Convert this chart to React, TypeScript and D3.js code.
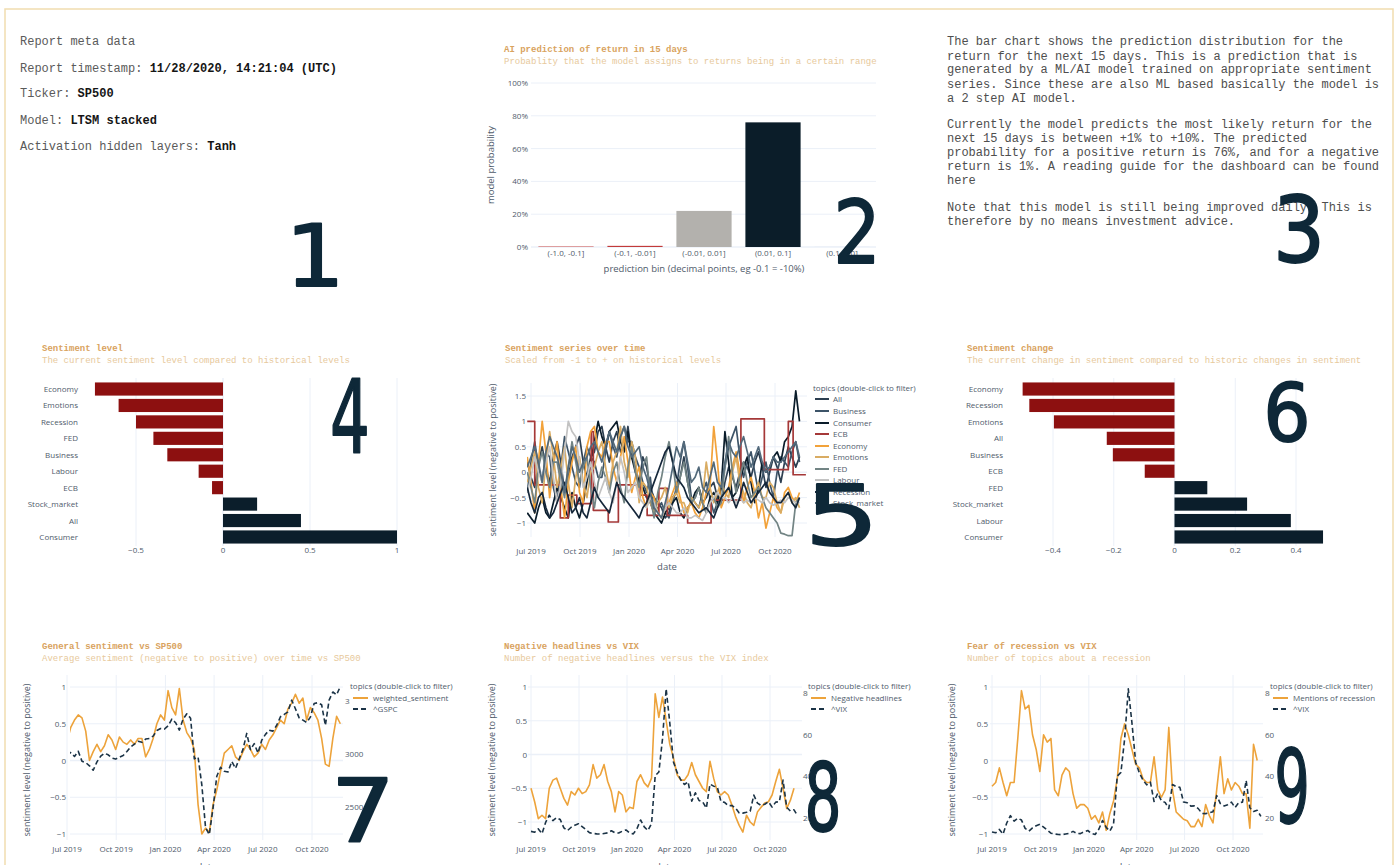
import React from "react";
import * as d3 from "d3";

const W = 1398;
const H = 865;

// ---------- Panel 1: meta data ----------
const metaLabels = ["Report timestamp: ", "Ticker: ", "Model: ", "Activation hidden layers: "];
const metaValues = ["11/28/2020, 14:21:04 (UTC)", "SP500", "LTSM stacked", "Tanh"];

// ---------- Panel 2: prediction bins ----------
const binLabels = ["(-1.0, -0.1]", "(-0.1, -0.01]", "(-0.01, 0.01]", "(0.01, 0.1]", "(0.1, 1.0]"];
const binProbs = [0.005, 0.007, 0.22, 0.76, 0.002];
const binColors = ["#d98c8c", "#c23a3a", "#b3b1ad", "#0b1d29", "#e6edf5"];
const probTicks = [0, 0.2, 0.4, 0.6, 0.8, 1];

// ---------- Panel 3: explanation ----------
const explainParas = [
  [
    "The bar chart shows the prediction distribution for the",
    "return for the next 15 days. This is a prediction that is",
    "generated by a ML/AI model trained on appropriate sentiment",
    "series. Since these are also ML based basically the model is",
    "a 2 step AI model.",
  ],
  [
    "Currently the model predicts the most likely return for the",
    "next 15 days is between +1% to +10%. The predicted",
    "probability for a positive return is 76%, and for a negative",
    "return is 1%. A reading guide for the dashboard can be found",
    "here",
  ],
  [
    "Note that this model is still being improved daily. This is",
    "therefore by no means investment advice.",
  ],
];

// ---------- Panel 4: sentiment level ----------
const levelCats = ["Economy", "Emotions", "Recession", "FED", "Business", "Labour", "ECB", "Stock_market", "All", "Consumer"];
const levelVals = [-0.736, -0.6, -0.5, -0.4, -0.32, -0.14, -0.063, 0.196, 0.448, 1.0];
const levelTicks = [-0.5, 0, 0.5, 1];

// ---------- Panel 6: sentiment change ----------
const changeCats = ["Economy", "Recession", "Emotions", "All", "Business", "ECB", "FED", "Stock_market", "Labour", "Consumer"];
const changeVals = [-0.5, -0.478, -0.397, -0.223, -0.203, -0.098, 0.108, 0.239, 0.383, 0.489];
const changeTicks = [-0.4, -0.2, 0, 0.2, 0.4];

// ---------- Panel 5: sentiment series (weekly from 2019-06-24) ----------
const topicNames = ["All", "Business", "Consumer", "ECB", "Economy", "Emotions", "FED", "Labour", "Recession", "Stock_market"];
const topicColors = ["#2c3e50", "#3d5468", "#0a1c2a", "#a53838", "#f2a23a", "#d9ac63", "#728484", "#c2c2c2", "#15273a", "#52697a"];
const sAll = [0.2,-0.1,-0.3,0.2,0.5,0.1,-0.2,0.3,0.6,0.2,-0.4,-0.1,0.3,0.5,0.7,0.2,-0.1,0.3,0.4,0.8,0.9,0.5,0.2,0.6,0.8,0.4,0.5,0.9,0.3,0.1,-0.2,0.3,0.1,-0.3,-0.5,-0.6,-0.7,-0.9,-0.8,-0.5,-0.4,-0.1,0.3,-0.2,-0.6,-0.5,-0.3,-0.6,-0.5,-0.3,-0.2,-0.5,-0.6,-0.2,0.1,-0.1,-0.3,0.0,0.2,0.1,-0.1,0.2,0.4,0.1,-0.3,0.0,0.3,0.1,-0.2,0.2,0.5,0.3,0.1,0.3];
const sBusiness = [-0.4,0.2,0.6,0.1,-0.2,0.4,0.3,-0.3,-0.6,0.1,0.7,0.4,0.1,-0.2,-0.3,0.2,0.5,0.3,0.2,-0.1,-0.1,0.4,0.8,0.5,0.3,0.7,0.9,0.6,0.6,0.3,0.1,-0.2,-0.4,-0.1,-0.8,-0.7,-0.6,-0.8,-0.9,-0.6,-0.3,0.2,0.6,0.1,-0.5,-0.6,-0.7,-0.4,-0.2,-0.5,-0.8,-0.6,-0.3,0.1,0.5,0.7,0.9,0.3,-0.1,0.2,0.4,0.0,-0.4,-0.1,0.2,-0.2,-0.5,0.0,0.3,0.2,0.1,0.4,0.6,0.2];
const sConsumer = [-0.8,-0.9,-1.0,-0.7,-0.5,-0.8,-0.9,-0.6,-0.3,-0.5,-0.7,-0.9,-0.4,-0.7,-0.9,-0.6,-0.2,0.2,0.6,1.0,0.7,0.5,0.8,0.9,1.0,0.6,0.4,0.8,0.3,0.0,-0.2,-0.3,-0.5,-0.6,-0.8,-0.9,-1.0,-0.8,-0.7,-0.6,-0.5,-0.8,-0.9,-0.7,-0.6,-0.4,-0.3,-0.6,-0.8,-0.5,-0.4,-0.6,-0.3,0.8,0.2,-0.5,-0.4,-0.2,0.1,0.3,-0.2,-0.6,-0.3,0.2,0.0,0.1,0.3,0.4,0.2,0.6,0.7,0.9,1.6,1.0];
const sEconomy = [0.3,-0.2,-0.8,0.2,1.0,0.4,-0.5,0.1,0.6,-0.3,-0.9,-0.2,0.2,0.5,-0.4,-0.6,0.5,0.8,0.9,0.4,0.3,0.6,0.6,0.1,-0.2,0.3,0.7,0.2,-0.4,-0.1,0.1,-0.5,-0.7,-0.4,-0.5,-0.8,-0.9,-0.7,-0.6,-0.4,-0.2,-0.5,-0.8,-0.7,-0.6,-0.8,-0.9,-0.7,-0.4,-0.3,0.9,0.2,-0.7,-0.5,-0.3,0.1,0.4,0.0,-0.6,-0.3,-0.1,-0.4,-0.9,-0.6,-1.1,-0.8,-0.5,-0.7,-0.8,-0.4,-0.3,-0.5,-0.6,-0.4];
const sEmotions = [-0.2,0.1,0.4,-0.3,-0.6,0.2,0.8,0.3,-0.3,0.1,0.5,-0.2,-0.7,-0.1,0.3,-0.2,-0.5,0.0,0.1,0.4,0.6,0.1,-0.3,0.2,0.4,0.9,0.2,-0.1,0.6,0.3,-0.6,-0.2,-0.3,-0.6,-0.8,-0.6,-0.5,-0.3,-0.7,-0.5,-0.4,-0.6,-0.6,-0.8,-0.5,-0.6,-0.7,-0.5,0.2,-0.3,-0.6,-0.4,-0.2,-0.4,-0.5,0.0,0.3,-0.2,-0.4,-0.6,-0.7,-0.4,-0.2,-0.5,-0.5,-0.2,-0.3,-0.6,-0.8,-0.5,-0.4,-0.6,-0.5,-0.7];
const sFED = [0.0,-0.3,-0.6,0.1,0.4,0.0,-0.3,0.2,0.2,-0.2,-0.5,0.1,0.6,0.2,-0.2,0.1,0.3,-0.3,-0.7,-0.2,0.1,-0.1,-0.4,0.0,0.2,-0.3,-0.6,0.1,0.5,0.0,-0.3,0.1,0.3,-0.5,-0.9,-0.4,-0.1,0.3,0.6,0.2,-0.4,-0.1,0.2,-0.2,-0.6,-0.5,-0.3,-0.6,-0.8,-0.6,-0.5,-0.7,-0.6,0.1,0.7,0.0,-0.4,-0.1,0.2,-0.2,-0.5,-0.4,-0.3,-0.5,-0.7,-0.8,-0.9,-1.0,-1.2,-1.22,-1.25,-1.25,-0.6,-0.5];
const sLabour = [-0.4,-0.1,0.3,0.0,-0.2,0.2,0.5,-0.1,-0.6,-0.2,0.4,1.0,0.8,0.7,0.2,-0.3,-0.1,0.2,-0.2,-0.5,-0.3,-0.1,-0.4,-0.6,-0.2,0.3,0.0,-0.4,-0.3,-0.2,-0.5,-0.6,-0.7,-0.5,-0.6,-0.8,-0.9,-0.7,-0.6,-0.7,-0.8,-0.8,-0.7,-0.9,-0.9,-0.85,-0.9,-0.95,-0.8,-0.6,-0.5,-0.4,-0.5,-0.5,-0.6,-0.5,-0.6,-0.5,-0.6,-0.55,-0.6,-0.5,-0.55,-0.6,-0.5,-0.6,-0.65,-0.6,-0.55,-0.6,-0.5,-0.55,-0.6,-0.6];
const sRecession = [-0.3,-0.6,-0.8,-0.5,-0.4,-0.7,-0.9,-0.8,-0.6,-0.4,-0.2,-0.5,-0.8,-0.7,-0.5,-0.8,-0.9,-0.6,-0.3,-0.5,-0.6,-0.7,-0.8,-0.5,-0.2,-0.4,-0.5,-0.6,-0.7,-0.8,-0.9,-0.7,-0.6,-0.4,-0.2,0.0,0.2,0.4,0.5,0.2,-0.1,-0.2,-0.3,-0.5,-0.6,-0.7,-0.8,-0.75,-0.7,-0.8,-0.9,-0.7,-0.5,-0.4,-0.3,-0.5,-0.7,-0.5,-0.2,-0.4,-0.6,-0.5,-0.4,-0.3,-0.2,-0.4,-0.5,-0.6,-0.6,-0.5,-0.4,-0.6,-0.7,-0.5];
const sStock = [0.1,0.3,0.5,0.2,-0.2,0.4,0.7,0.5,0.3,0.0,-0.4,0.1,0.5,0.3,0.0,0.2,0.3,0.5,0.6,0.4,0.2,0.5,0.8,0.6,0.4,0.7,0.9,0.5,0.3,0.4,0.5,0.1,-0.1,-0.4,-0.7,-0.8,-0.9,-0.6,-0.3,0.1,0.5,0.3,0.6,0.2,-0.2,-0.1,0.1,-0.3,-0.4,-0.1,0.2,-0.2,-0.3,0.2,0.6,0.4,0.3,0.5,0.7,0.4,0.1,0.3,0.5,0.2,0.0,0.1,0.3,0.2,0.2,0.3,0.4,0.5,0.6,0.3];
// ECB is a step series: change dates and levels
const ecbSteps: [string, number][] = [
  ["2019-06-24", 1.0], ["2019-07-08", -0.25], ["2019-08-25", -0.9], ["2019-09-09", -0.45],
  ["2019-09-25", -0.62], ["2019-10-22", 0.8], ["2019-10-26", -0.75], ["2019-11-23", -0.98],
  ["2019-12-12", -0.25], ["2020-01-22", -0.45], ["2020-02-04", -0.85], ["2020-02-26", -0.32],
  ["2020-03-13", -0.85], ["2020-04-20", -1.0], ["2020-06-03", -0.55], ["2020-07-29", 1.05],
  ["2020-09-11", 0.05], ["2020-10-26", 1.0], ["2020-11-04", -0.05], ["2020-11-28", -0.05],
];
const seriesValues = [sAll, sBusiness, sConsumer, null, sEconomy, sEmotions, sFED, sLabour, sRecession, sStock];
const seriesTicks = [-1, -0.5, 0, 0.5, 1, 1.5];

// ---------- Panels 7-9 (weekly from 2019-07-01) ----------
const weightedSentiment = [0.25,0.45,0.55,0.62,0.58,0.4,0.0,0.12,0.22,0.12,0.2,0.35,0.28,0.15,0.32,0.25,0.22,0.28,0.22,0.3,0.3,0.05,0.15,0.3,0.5,0.62,0.55,0.95,0.72,0.62,0.98,0.55,0.38,0.3,0.15,-0.6,-1.0,-0.92,-0.98,-0.6,-0.4,-0.15,0.1,0.15,0.2,0.05,0.0,0.12,0.22,0.15,0.05,0.1,0.22,0.15,0.28,0.35,0.45,0.55,0.5,0.7,0.78,0.9,0.78,0.85,0.55,0.72,0.65,0.55,0.3,-0.05,-0.08,0.3,0.6,0.5];
const gspc = [2990,3014,2977,3026,2932,2919,2889,2847,2926,2979,3007,2992,2962,2952,2970,2986,3023,3067,3093,3120,3110,3141,3146,3169,3221,3240,3235,3265,3330,3295,3226,3328,3380,3338,2954,2972,2711,2305,2240,2489,2790,2875,2837,2831,2930,2864,2955,3044,3194,3041,3098,3009,3130,3185,3225,3216,3271,3351,3373,3397,3508,3427,3341,3319,3298,3348,3477,3484,3465,3270,3509,3585,3558,3638];
const negativeHeadlines = [-0.5,-0.7,-0.95,-0.9,-0.95,-0.5,-0.38,-0.35,-0.5,-0.65,-0.75,-0.55,-0.6,-0.5,-0.58,-0.55,-0.45,-0.15,-0.35,-0.3,-0.15,-0.4,-0.55,-0.85,-0.55,-0.6,-0.85,-0.78,-0.8,-0.4,-0.3,-0.42,-0.48,-0.35,0.9,0.55,0.85,0.5,0.15,-0.05,-0.3,-0.38,-0.38,-0.3,-0.12,-0.3,-0.4,-0.5,-0.55,-0.1,-0.35,-0.55,-0.6,-0.55,-0.6,-0.75,-0.92,-1.05,-1.15,-0.9,-1.0,-1.05,-0.85,-0.78,-0.72,-0.7,-0.6,-0.4,-0.22,-0.5,-0.8,-0.68,-0.5];
const recessionMentions = [-0.35,-0.3,-0.1,-0.3,-0.48,-0.3,-0.3,0.3,0.95,0.7,0.75,0.35,0.15,-0.15,0.35,0.25,0.3,-0.4,-0.48,-0.2,-0.1,-0.15,-0.45,-0.65,-0.6,-0.6,-0.65,-0.8,-0.75,-0.85,-0.7,-0.95,-0.72,-0.55,-0.25,0.3,0.5,0.35,0.15,-0.05,-0.1,-0.25,-0.3,-0.3,0.05,-0.4,-0.5,-0.4,0.45,-0.4,-0.7,-0.75,-0.8,-0.82,-0.9,-0.9,-0.8,-0.9,-0.6,-0.75,-0.85,-0.4,0.05,-0.45,-0.25,-0.4,-0.3,-0.35,-0.45,-0.45,-0.92,0.22,0.0];
const vix = [13.3,12.9,14.5,12.2,17.6,21.1,18.5,19.9,19.0,15.0,13.7,15.3,16.3,17.0,15.6,14.2,12.7,12.3,12.1,12.0,12.3,12.6,13.6,12.6,12.5,13.4,14.0,12.6,12.1,14.6,18.8,15.5,13.7,17.1,40.1,41.9,57.8,82.0,65.5,46.8,41.7,38.2,35.9,37.2,27.9,31.9,28.2,27.5,24.5,36.1,35.1,34.7,27.7,27.3,25.7,25.8,24.5,22.2,22.1,22.5,23.0,30.8,26.9,25.8,26.4,27.6,25.0,27.4,27.6,38.0,24.9,23.1,23.7,20.8];
const sentTicks = [-1, -0.5, 0, 0.5, 1];

const quarterDates = ["2019-07-01", "2019-10-01", "2020-01-01", "2020-04-01", "2020-07-01", "2020-10-01"];

// ---------- helpers ----------
const parse = d3.timeParse("%Y-%m-%d");
const QTR = quarterDates.map((s) => parse(s) as Date);
const fmtQ = d3.timeFormat("%b %Y");
const WEEK0 = parse("2019-07-01") as Date;
const SER0 = parse("2019-06-24") as Date;
const weekDate = (i: number) => d3.timeDay.offset(WEEK0, 7 * i);
const serDate = (i: number) => d3.timeDay.offset(SER0, 7 * i);
const fmtNum = (v: number) => (v < 0 ? "\u2212" : "") + d3.format("~g")(Math.abs(v));

const GRID = "#ebf0f8";
const TICK = "#4f5b6b";
const TITLE = "#d9a35e";
const SUB = "#e7c99c";
const ORANGE = "#eda33b";
const NAVY_DASH = "#1b3346";
const SANS = "'Open Sans', 'Noto Sans', sans-serif";
const MONO = "'Liberation Mono', 'DejaVu Sans Mono', monospace";

function PanelTitle({ x, y, title, sub }: { x: number; y: number; title: string; sub: string }) {
  return (
    <g fontFamily={MONO} fontSize={9}>
      <text x={x} y={y} fill={TITLE} fontWeight="bold">{title}</text>
      <text x={x} y={y + 12} fill={SUB}>{sub}</text>
    </g>
  );
}

function Meta() {
  const rows = [45, 72, 97, 124, 150];
  return (
    <g fontFamily={MONO} fontSize={12} style={{ whiteSpace: "pre" }}>
      <text x={20} y={rows[0]} fill="#5a5a5a">Report meta data</text>
      {metaLabels.map((l, i) => (
        <text key={i} x={20} y={rows[i + 1]} fill="#5a5a5a">
          {l}
          <tspan fontWeight="bold" fill="#151515">{metaValues[i]}</tspan>
        </text>
      ))}
    </g>
  );
}

function Explain() {
  const base = [[45, 60, 73, 88, 102], [128, 142, 156, 170, 184], [211, 225]];
  return (
    <g fontFamily={MONO} fontSize={12} fill="#4e4e4e">
      {explainParas.map((p, pi) =>
        p.map((line, li) => (
          <text key={pi + "-" + li} x={947} y={base[pi][li]}>{line}</text>
        ))
      )}
    </g>
  );
}

function PredBar() {
  const x = d3.scaleBand<string>().domain(binLabels).range([531.5, 876.5]).paddingInner(0.2).paddingOuter(0.1);
  const y = d3.scaleLinear().domain([0, 1]).range([247, 83]);
  return (
    <g fontFamily={SANS}>
      <PanelTitle x={504} y={52} title="AI prediction of return in 15 days" sub="Probablity that the model assigns to returns being in a certain range" />
      {probTicks.map((t) => (
        <line key={t} x1={531} x2={876} y1={y(t)} y2={y(t)} stroke={GRID} strokeWidth={t === 0 ? 1.5 : 1} />
      ))}
      {probTicks.map((t) => (
        <text key={"l" + t} x={528} y={y(t) + 3} textAnchor="end" fontSize={8} fill={TICK}>{d3.format(".0%")(t)}</text>
      ))}
      {binLabels.map((b, i) => (
        <rect key={b} x={x(b)} y={y(binProbs[i])} width={x.bandwidth()} height={y(0) - y(binProbs[i])} fill={binColors[i]} />
      ))}
      {binLabels.map((b) => (
        <text key={"t" + b} x={(x(b) as number) + x.bandwidth() / 2} y={256} textAnchor="middle" fontSize={8} fill={TICK}>{b}</text>
      ))}
      <text x={704} y={272} textAnchor="middle" fontSize={9.5} fill={TICK}>prediction bin (decimal points, eg -0.1 = -10%)</text>
      <text transform="translate(494,165) rotate(-90)" textAnchor="middle" fontSize={9.5} fill={TICK}>model probability</text>
    </g>
  );
}

function HBar({ tx, title, sub, cats, vals, ticks, domain, range, labelEnd }: any) {
  const x = d3.scaleLinear().domain(domain).range(range);
  const y = d3.scaleBand<string>().domain(cats).range([380.8, 545.2]).paddingInner(0.2).paddingOuter(0.1);
  return (
    <g fontFamily={SANS}>
      <PanelTitle x={tx} y={351} title={title} sub={sub} />
      {ticks.map((t: number) => (
        <line key={t} x1={x(t)} x2={x(t)} y1={378} y2={546} stroke={GRID} strokeWidth={t === 0 ? 1.5 : 1} />
      ))}
      {cats.map((c: string, i: number) => {
        const v = vals[i];
        return (
          <rect key={c} x={Math.min(x(0), x(v))} y={y(c)} width={Math.abs(x(v) - x(0))} height={y.bandwidth()}
            fill={v < 0 ? "#8d1010" : "#0b1e2b"} />
        );
      })}
      {cats.map((c: string) => (
        <text key={"c" + c} x={labelEnd} y={(y(c) as number) + y.bandwidth() / 2 + 3} textAnchor="end" fontSize={8} fill={TICK}>{c}</text>
      ))}
      {ticks.map((t: number) => (
        <text key={"t" + t} x={x(t)} y={553} textAnchor="middle" fontSize={8} fill={TICK}>{fmtNum(t)}</text>
      ))}
    </g>
  );
}

function SeriesPanel() {
  const x = d3.scaleTime().domain([QTR[0], QTR[5]]).range([531, 775]);
  const y = d3.scaleLinear().domain([-1, 1.5]).range([523, 396]);
  const left = 527, right = 807, top = 383, bottom = 537;
  const line = d3.line<number>().x((_, i) => x(serDate(i))).y((v) => y(v));
  const ecbLine = d3.line<[string, number]>().x((d) => x(parse(d[0]) as Date)).y((d) => y(d[1])).curve(d3.curveStepAfter);
  const legendY = [399, 411, 423, 434, 446, 457, 469, 480, 492, 503];
  return (
    <g fontFamily={SANS}>
      <PanelTitle x={505} y={351} title="Sentiment series over time" sub="Scaled from -1 to + on historical levels" />
      <defs>
        <clipPath id="clip5"><rect x={left} y={top} width={right - left} height={bottom - top} /></clipPath>
      </defs>
      {QTR.map((d, i) => (
        <line key={i} x1={x(d)} x2={x(d)} y1={top} y2={bottom} stroke={GRID} />
      ))}
      {seriesTicks.map((t) => (
        <line key={"h" + t} x1={left} x2={right} y1={y(t)} y2={y(t)} stroke={GRID} strokeWidth={t === 0 ? 1.5 : 1} />
      ))}
      <g clipPath="url(#clip5)" fill="none" strokeWidth={1.7} strokeLinejoin="round">
        {topicNames.map((n, i) =>
          n === "ECB" ? (
            <path key={n} d={ecbLine(ecbSteps) as string} stroke={topicColors[i]} />
          ) : (
            <path key={n} d={line(seriesValues[i] as number[]) as string} stroke={topicColors[i]} />
          )
        )}
      </g>
      {seriesTicks.map((t) => (
        <text key={"t" + t} x={526} y={y(t) + 3} textAnchor="end" fontSize={8} fill={TICK}>{fmtNum(t)}</text>
      ))}
      {QTR.map((d, i) => (
        <text key={"q" + i} x={x(d)} y={554} textAnchor="middle" fontSize={8} fill={TICK}>{fmtQ(d)}</text>
      ))}
      <text x={667} y={570} textAnchor="middle" fontSize={9.5} fill={TICK}>date</text>
      <text transform="translate(496,460) rotate(-90)" textAnchor="middle" fontSize={9} fill={TICK}>sentiment level (negative to positive)</text>
      <text x={813} y={391} fontSize={8} fill={TICK}>topics (double-click to filter)</text>
      {topicNames.map((n, i) => (
        <g key={"lg" + n}>
          <line x1={815} x2={829} y1={legendY[i]} y2={legendY[i]} stroke={topicColors[i]} strokeWidth={2} />
          <text x={833} y={legendY[i] + 3} fontSize={8} fill={TICK}>{n}</text>
        </g>
      ))}
    </g>
  );
}

function DualPanel({ id, tx, title, sub, xr, yLr, yRd, yRr, rTicks, left, right, yEnd, rX, legX, names, yTitleX, sent, other }: any) {
  const top = 675, bottom = 840;
  const x = d3.scaleTime().domain([QTR[0], QTR[5]]).range(xr);
  const yL = d3.scaleLinear().domain([-1, 1]).range(yLr);
  const yR = d3.scaleLinear().domain(yRd).range(yRr);
  const lineL = d3.line<number>().x((_, i) => x(weekDate(i))).y((v) => yL(v));
  const lineR = d3.line<number>().x((_, i) => x(weekDate(i))).y((v) => yR(v));
  return (
    <g fontFamily={SANS}>
      <PanelTitle x={tx} y={649} title={title} sub={sub} />
      <defs>
        <clipPath id={id}><rect x={left} y={top} width={right - left} height={bottom - top} /></clipPath>
      </defs>
      {QTR.map((d, i) => (
        <line key={i} x1={x(d)} x2={x(d)} y1={top} y2={bottom} stroke={GRID} />
      ))}
      {sentTicks.map((t) => (
        <line key={"h" + t} x1={left} x2={right} y1={yL(t)} y2={yL(t)} stroke={GRID} strokeWidth={t === 0 ? 1.5 : 1} />
      ))}
      {sentTicks.map((t) => (
        <text key={"t" + t} x={yEnd} y={yL(t) + 3} textAnchor="end" fontSize={8} fill={TICK}>{fmtNum(t)}</text>
      ))}
      {rTicks.map((t: number) => (
        <text key={"r" + t} x={rX} y={yR(t) + 3} fontSize={8} fill={TICK}>{t}</text>
      ))}
      <g clipPath={`url(#${id})`} fill="none" strokeLinejoin="round">
        <path d={lineL(sent) as string} stroke={ORANGE} strokeWidth={1.6} />
        <path d={lineR(other) as string} stroke={NAVY_DASH} strokeWidth={1.6} strokeDasharray="5,3" />
      </g>
      {QTR.map((d, i) => (
        <text key={"q" + i} x={x(d)} y={852} textAnchor="middle" fontSize={8} fill={TICK}>{fmtQ(d)}</text>
      ))}
      <text x={(left + right) / 2} y={870} textAnchor="middle" fontSize={9.5} fill={TICK}>date</text>
      <text transform={`translate(${yTitleX},760) rotate(-90)`} textAnchor="middle" fontSize={9} fill={TICK}>sentiment level (negative to positive)</text>
      <rect x={legX} y={677} width={112} height={38} fill="#fff" />
      <text x={legX} y={689} fontSize={8} fill={TICK}>topics (double-click to filter)</text>
      <line x1={legX + 3} x2={legX + 18} y1={698} y2={698} stroke={ORANGE} strokeWidth={2} />
      <text x={legX + 23} y={701} fontSize={8} fill={TICK}>{names[0]}</text>
      <line x1={legX + 3} x2={legX + 18} y1={709} y2={709} stroke={NAVY_DASH} strokeWidth={2} strokeDasharray="5,3" />
      <text x={legX + 23} y={712} fontSize={8} fill={TICK}>{names[1]}</text>
    </g>
  );
}

const digitMarks = [
  { d: "1", cx: 315, by: 286, fs: 85, sx: 1.1 },
  { d: "2", cx: 857, by: 263, fs: 88, sx: 0.85 },
  { d: "3", cx: 1299, by: 262, fs: 91, sx: 0.9 },
  { d: "4", cx: 350, by: 452, fs: 101, sx: 0.62 },
  { d: "5", cx: 842, by: 545, fs: 84, sx: 1.4 },
  { d: "6", cx: 1287, by: 441, fs: 81, sx: 0.92 },
  { d: "7", cx: 363, by: 842, fs: 88, sx: 1.15 },
  { d: "8", cx: 823, by: 831, fs: 94, sx: 0.62 },
  { d: "9", cx: 1292, by: 823, fs: 102, sx: 0.55 },
];

function Digits() {
  return (
    <g fontFamily="'DejaVu Sans', sans-serif" fill="#0e2838" stroke="#0e2838" strokeWidth={1.8} strokeLinejoin="round">
      {digitMarks.map((m) => (
        <text key={m.d} transform={`translate(${m.cx},${m.by}) scale(${m.sx},1)`} textAnchor="middle" fontSize={m.fs}>{m.d}</text>
      ))}
    </g>
  );
}

export default function App() {
  return (
    <svg width={W} height={H} style={{ position: "absolute", left: 0, top: 0, background: "#fff" }}>
      <rect x={0} y={0} width={W} height={H} fill="#fff" />
      <path d={`M5,${H + 5} V9 H1393 V${H + 5}`} fill="none" stroke="#f1ddb0" strokeWidth={1.5} />
      <Meta />
      <PredBar />
      <Explain />
      <HBar tx={42} title="Sentiment level" sub="The current sentiment level compared to historical levels"
        cats={levelCats} vals={levelVals} ticks={levelTicks} domain={[-0.5, 1]} range={[136, 397]} labelEnd={78} />
      <SeriesPanel />
      <HBar tx={967} title="Sentiment change" sub="The current change in sentiment compared to historic changes in sentiment"
        cats={changeCats} vals={changeVals} ticks={changeTicks} domain={[-0.4, 0.4]} range={[1053, 1296]} labelEnd={1003} />
      <DualPanel id="c7" tx={42} title="General sentiment vs SP500" sub="Average sentiment (negative to positive) over time vs SP500"
        xr={[67, 312]} yLr={[834, 687]} yRd={[2500, 3000]} yRr={[807, 754]} rTicks={[2500, 3000, 3500]}
        left={70} right={343} yEnd={66} rX={345} legX={350} names={["weighted_sentiment", "^GSPC"]} yTitleX={30}
        sent={weightedSentiment} other={gspc} />
      <DualPanel id="c8" tx={504} title="Negative headlines vs VIX" sub="Number of negative headlines versus the VIX index"
        xr={[531, 770]} yLr={[822, 687]} yRd={[40, 80]} yRr={[776, 693]} rTicks={[20, 40, 60, 80]}
        left={528} right={802} yEnd={527} rX={803} legX={808} names={["Negative headlines", "^VIX"]} yTitleX={495}
        sent={negativeHeadlines} other={vix} />
      <DualPanel id="c9" tx={967} title="Fear of recession vs VIX" sub="Number of topics about a recession"
        xr={[992, 1233]} yLr={[834, 687]} yRd={[20, 80]} yRr={[818, 693]} rTicks={[20, 40, 60, 80]}
        left={990} right={1263} yEnd={988} rX={1265} legX={1270} names={["Mentions of recession", "^VIX"]} yTitleX={955}
        sent={recessionMentions} other={vix} />
      <Digits />
    </svg>
  );
}
